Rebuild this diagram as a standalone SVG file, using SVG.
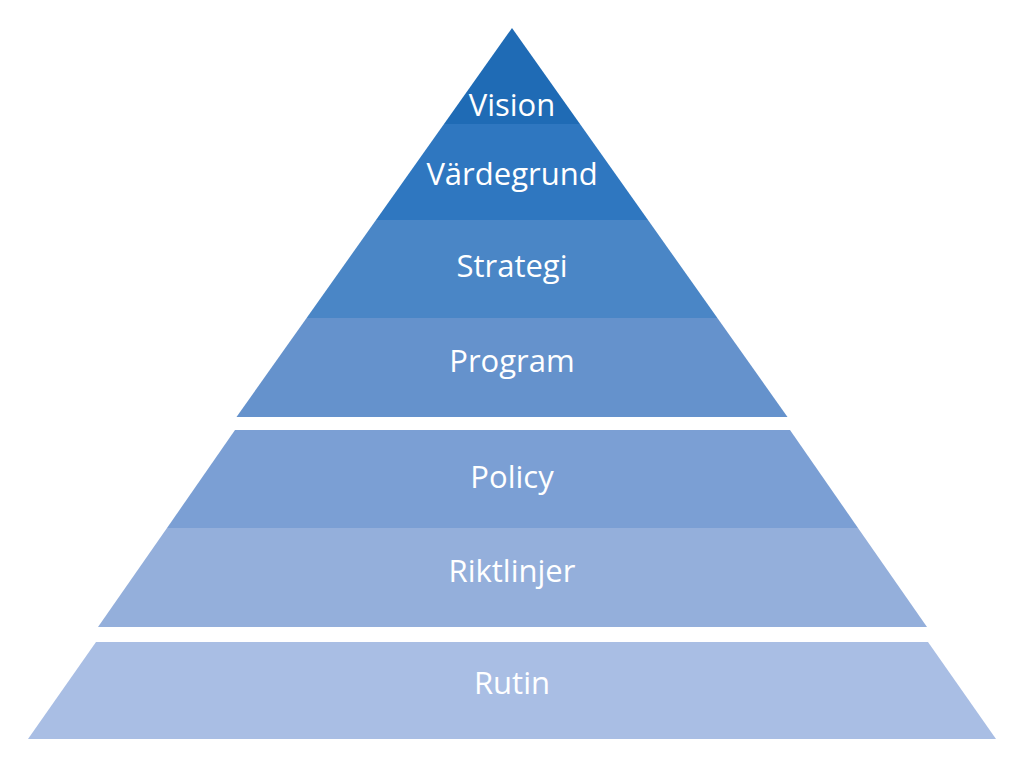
<svg xmlns="http://www.w3.org/2000/svg" width="1024" height="767" viewBox="0 0 1024 767">
<style>
.lbl{font-family:"Open Sans","Liberation Sans",sans-serif;font-size:31px;fill:#ffffff;text-anchor:middle}
</style>
<rect width="1024" height="767" fill="#ffffff"/>
<g id="vision"><polygon points="512,28 580,124 444,124" fill="#1f6bb5"/><text class="lbl" x="512" y="116">Vision</text></g>
<g id="vardegrund"><polygon points="444,124 580,124 648,220 376,220" fill="#2f77c0"/><text class="lbl" x="512" y="185">Värdegrund</text></g>
<g id="strategi"><polygon points="376,220 648,220 717.4,318 306.6,318" fill="#4a86c6"/><text class="lbl" x="512" y="277">Strategi</text></g>
<g id="program"><polygon points="306.6,318 717.4,318 787.5,417 236.5,417" fill="#6592cc"/><text class="lbl" x="512" y="372">Program</text></g>
<g id="policy"><polygon points="235,430 790,430 858,528 167,528" fill="#7b9fd4"/><text class="lbl" x="512" y="488">Policy</text></g>
<g id="riktlinjer"><polygon points="167,528 858,528 927,627 98,627" fill="#94afdb"/><text class="lbl" x="512" y="582">Riktlinjer</text></g>
<g id="rutin"><polygon points="96,642 928,642 996,739 28,739" fill="#a9bee4"/><text class="lbl" x="512" y="694">Rutin</text></g>
<g id="connectors"/>
</svg>
